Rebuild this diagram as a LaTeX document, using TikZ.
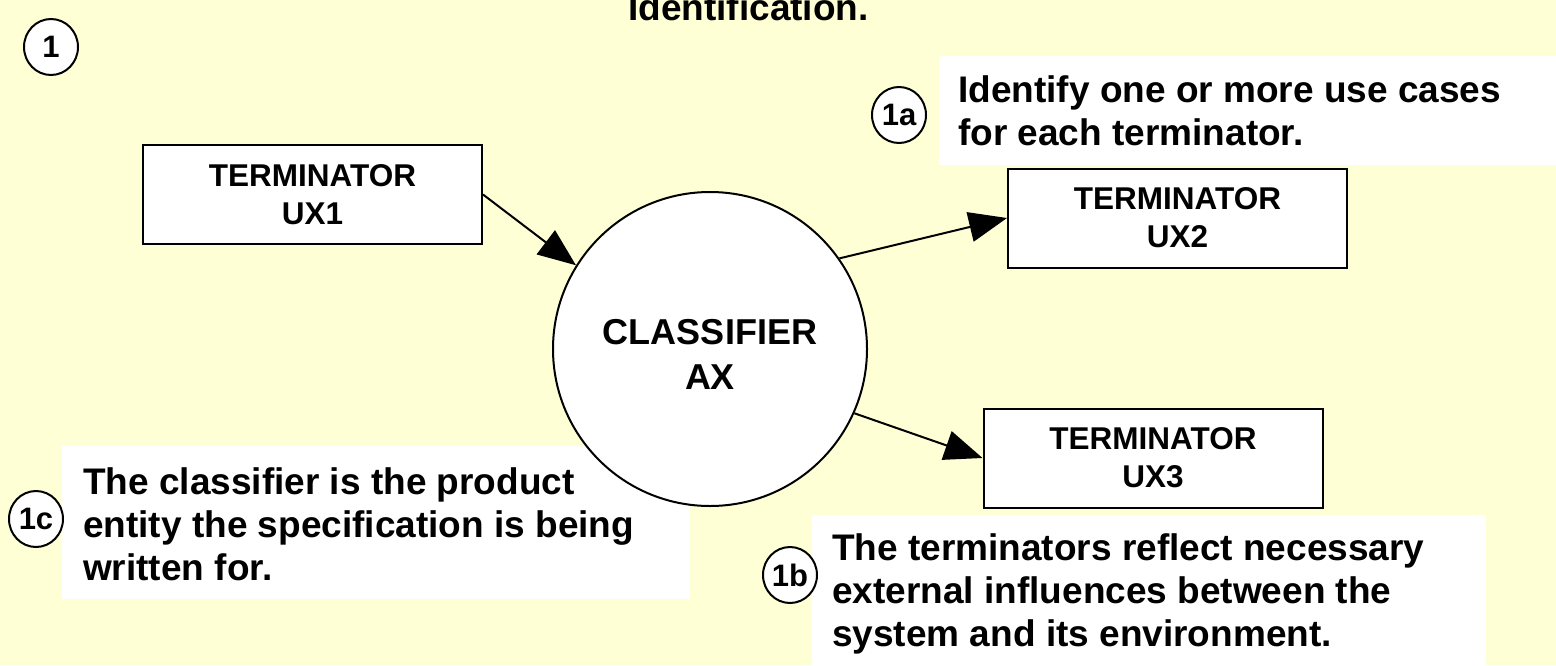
\documentclass[tikz,border=0pt]{standalone}
\usepackage{fontspec}
\setmainfont{Liberation Sans}
\usetikzlibrary{arrows.meta,shapes.geometric}
\definecolor{paper}{HTML}{FFFFD6}
\begin{document}
\begin{tikzpicture}[x=1pt,y=-1pt,
  termbox/.style={draw=black, fill=white, line width=2pt, align=center,
    minimum width=339pt, minimum height=99pt, inner sep=0pt,
    font=\bfseries\fontsize{31.5}{38}\selectfont},
  notebg/.style={fill=white, draw=none, anchor=north west, inner sep=0pt},
  notetext/.style={anchor=base west, align=left, inner sep=0pt,
    font=\bfseries\fontsize{37}{43}\selectfont},
  badge/.style={ellipse, draw=black, fill=white, line width=2pt,
    minimum width=54pt, minimum height=56pt, inner sep=0pt,
    font=\bfseries\fontsize{31}{32}\selectfont},
  flow/.style={line width=2pt, -{Triangle[length=38pt,width=30pt]}}]
  % page and its margins
  \fill[paper] (0,0) rectangle (1556,665);
  \useasboundingbox (0,0) rectangle (1556,665);

  % heading, cut by the top edge
  \node[notetext] (head) at (628,20) {Identification.};

  % white panels behind the notes
  \node[notebg, minimum width=617pt, minimum height=109pt] (bga) at (939,56) {};
  \node[notebg, minimum width=628pt, minimum height=153pt] (bgc) at (62,446) {};
  \node[notebg, minimum width=674pt, minimum height=155pt] (bgb) at (812,515) {};

  % the classifier and its terminators
  \node[circle, draw=black, fill=white, line width=2pt, minimum size=314pt,
    inner sep=0pt] (cls) at (710,349) {};
  \node[align=center, inner sep=0pt,
    font=\bfseries\fontsize{36}{45}\selectfont] (clstext) at (710,354.5)
    {CLASSIFIER\\AX};
  \node[termbox] (ux1) at (312.5,194.5) {TERMINATOR\\UX1};
  \node[termbox] (ux2) at (1177.5,218) {TERMINATOR\\UX2};
  \node[termbox] (ux3) at (1153,458) {TERMINATOR\\UX3};

  \draw[flow] (ux1.east) -- (cls.148);
  \draw[flow] (cls.35) -- (ux2.west);
  \draw[flow] (cls.-24) -- (ux3.west);

  % numbered notes
  \node[badge] (n1) at (51,47) {1};
  \node[badge] (n1a) at (899,115) {1a};
  \node[badge] (n1b) at (790,575) {1b};
  \node[badge] (n1c) at (36,519) {1c};

  % multi-line notes are anchored at the baseline of their last line
  \node[notetext] (ta) at (958,145)
    {Identify one or more use cases\\for each terminator.};
  \node[notetext] (tc) at (83,580)
    {The classifier is the product\\entity the specification is being\\written for.};
  \node[notetext] (tb) at (832,646)
    {The terminators reflect necessary\\external influences between the\\system and its environment.};
\end{tikzpicture}
\end{document}
